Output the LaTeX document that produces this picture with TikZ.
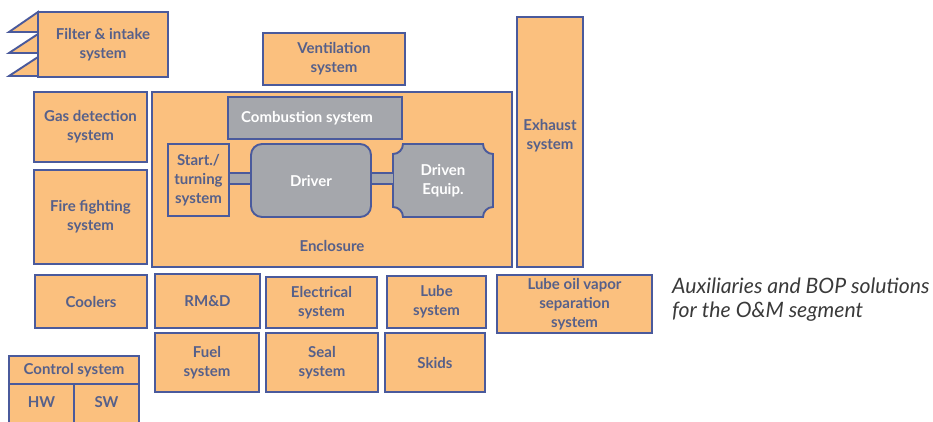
\documentclass[tikz,border=0pt]{standalone}
\usepackage{fontspec}
\setmainfont{Lato}
\definecolor{fillor}{HTML}{FBC07E}
\definecolor{edgec}{HTML}{4A5A9C}
\definecolor{txt}{HTML}{56608A}
\definecolor{gfill}{HTML}{A5A7AC}
\definecolor{captxt}{HTML}{3A3A3A}
\tikzset{
  box/.style={draw=edgec, fill=fillor, line width=1.9pt, inner sep=0pt, align=center,
    text=txt, font=\bfseries\fontsize{15}{19}\selectfont},
  gbox/.style={box, fill=gfill, text=white},
  plain/.style={inner sep=0pt, align=center, text=txt, font=\bfseries\fontsize{15}{19}\selectfont},
  edgeline/.style={draw=edgec, line width=1.9pt},
}
\newcommand\bx[6][]{\node[box,minimum width={#4pt-#2pt},minimum height={#5pt-#3pt},#1] (#6) at ({(#2+#4)/2},{(#3+#5)/2})}
\begin{document}
\begin{tikzpicture}[x=1pt,y=-1pt]
\path[use as bounding box, fill=white] (0,0) rectangle (933,421);
% filter teeth
\filldraw[edgeline, fill=fillor, line join=miter] (38,12) -- (9,32) -- (38,32) -- cycle;
\filldraw[edgeline, fill=fillor] (38,34) -- (9,53) -- (38,53) -- cycle;
\filldraw[edgeline, fill=fillor] (38,57) -- (9,76) -- (38,76) -- cycle;
\bx{38}{12}{168}{77}{filter} {Filter \& intake\\system};
\bx{263}{33}{405}{85}{vent} {Ventilation\\system};
\bx{34}{92}{147}{162}{gas} {Gas detection\\system};
\bx{34}{170}{147}{264}{fire} {Fire fighting\\system};
\bx{152}{92}{512}{267}{encl} {};
\node[plain] (encllbl) at (332,246) {Enclosure};
\bx{517}{17}{583}{267}{exhaust} {};
\node[plain] (exhaustlbl) at (550,136) {Exhaust\\system};
\bx[gbox]{228}{97}{402}{139}{comb} {\hspace*{-16pt}Combustion system};
\bx{168}{144}{229}{216}{start} {Start./\\turning\\system};
\bx[gbox,rounded corners=11pt]{251}{144}{371}{217}{driver} {Driver};
% driven equipment with concave corners
\filldraw[edgeline, fill=gfill]
  (403,144) -- (483,144)
  .. controls (483,149.5) and (487.5,154) .. (493,154)
  -- (493,207)
  .. controls (487.5,207) and (483,211.5) .. (483,217)
  -- (403,217)
  .. controls (403,211.5) and (398.5,207) .. (393,207)
  -- (393,154)
  .. controls (398.5,154) and (403,149.5) .. (403,144) -- cycle;
\node[plain, text=white, minimum width=100pt, minimum height=73pt] (driven) at (443,180.5) {Driven\\Equip.};
% shafts
\fill[gfill] (start.east |- 0,173) rectangle (driver.west |- 0,184);
\draw[edgeline] (start.east |- 0,173) -- (driver.west |- 0,173);
\draw[edgeline] (start.east |- 0,184) -- (driver.west |- 0,184);
\fill[gfill] (driver.east |- 0,173) rectangle (driven.west |- 0,184);
\draw[edgeline] (driver.east |- 0,173) -- (driven.west |- 0,173);
\draw[edgeline] (driver.east |- 0,184) -- (driven.west |- 0,184);
% bottom rows
\bx{35}{275}{147}{328}{coolers} {Coolers};
\bx{155}{274}{260}{328}{rmd} {RM\&D};
\bx{266}{277}{377}{328}{elec} {Electrical\\system};
\bx{387}{276}{486}{328}{lube} {Lube\\system};
\bx{497}{275}{652}{333}{lov} {Lube oil vapor\\separation\\system};
\bx{155}{333}{259}{392}{fuel} {Fuel\\system};
\bx{266}{333}{378}{392}{seal} {Seal\\system};
\bx{385}{333}{485}{392}{skids} {Skids};
\bx{9}{356}{139}{384}{ctrl} {Control system};
\bx{9}{384}{74}{428}{hw} {\raisebox{7pt}{HW}};
\bx{74}{384}{139}{428}{sw} {\raisebox{7pt}{SW}};
\node[anchor=west, inner sep=0pt, align=left, text=captxt, font=\itshape\fontsize{21.2}{24}\selectfont] (caption) at (672,299.5)
  {Auxiliaries and BOP solutions\\for the O\&M segment};
\end{tikzpicture}
\end{document}
